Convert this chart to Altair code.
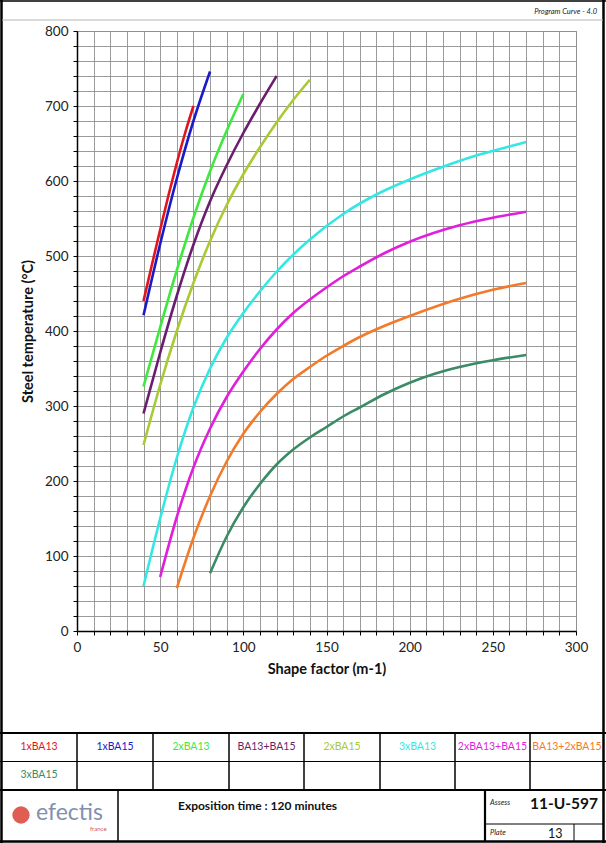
import altair as alt
import pandas as pd

# ---------------- data ----------------
names = ["1xBA13", "1xBA15", "2xBA13", "BA13+BA15", "2xBA15",
         "3xBA13", "2xBA13+BA15", "BA13+2xBA15", "3xBA15"]
colors = ["#E3151C", "#1A1AC8", "#3FE83F", "#6B1E6E", "#A9C935",
          "#33E8E3", "#E01FDC", "#F47A2A", "#3A8B66"]

sf_1xBA13 = [40, 45, 50, 55, 60, 65, 70]
t_1xBA13 = [440, 488, 535, 581, 624, 664, 700]

sf_1xBA15 = [40, 50, 60, 70, 80]
t_1xBA15 = [421, 516, 603, 680, 746]

sf_2xBA13 = [40, 50, 60, 70, 80, 90, 100]
t_2xBA13 = [326, 405, 481, 551, 613, 667, 716]

sf_BA13_BA15 = [40, 50, 60, 70, 80, 90, 100, 110, 120]
t_BA13_BA15 = [290, 371, 447, 515, 573, 621, 664, 703, 740]

sf_2xBA15 = [40, 50, 60, 70, 80, 90, 100, 110, 120, 130, 140]
t_2xBA15 = [248, 328, 400, 464, 520, 568, 609, 645, 678, 708, 735]

sf_3xBA13 = [40, 50, 60, 70, 80, 90, 100, 110, 120, 140, 160, 180, 200, 220, 240, 260, 270]
t_3xBA13 = [60, 150, 231, 298, 350, 391, 424, 453, 479, 522, 556, 582, 602, 619, 634, 646, 652]

sf_2xBA13_BA15 = [50, 60, 70, 80, 90, 100, 110, 120, 130, 140, 150, 160, 170, 185, 200, 230, 250, 270]
t_2xBA13_BA15 = [72, 152, 218, 270, 312, 346, 376, 402, 424, 442, 458, 473, 486, 504, 519, 541, 551, 559]

sf_BA13_2xBA15 = [60, 70, 80, 90, 100, 110, 120, 130, 140, 150, 160, 170, 185, 200, 230, 250, 270]
t_BA13_2xBA15 = [57, 124, 180, 226, 263, 292, 316, 336, 352, 367, 380, 392, 407, 420, 443, 455, 464]

sf_3xBA15 = [80, 90, 100, 110, 120, 130, 140, 150, 160, 170, 185, 200, 215, 230, 250, 270]
t_3xBA15 = [77, 126, 165, 196, 222, 242, 258, 272, 286, 298, 316, 331, 343, 352, 361, 368]

x_ticks = list(range(0, 301, 10))
y_ticks = list(range(0, 801, 20))

header_text = "Program Curve  - 4.0"
footer_title = "Exposition time : 120 minutes"
assess_label = "Assess"
assess_value = "11-U-597"
plate_label = "Plate"
plate_value = "13"

# ---------------- build table ----------------
sf_list = [sf_1xBA13, sf_1xBA15, sf_2xBA13, sf_BA13_BA15, sf_2xBA15,
           sf_3xBA13, sf_2xBA13_BA15, sf_BA13_2xBA15, sf_3xBA15]
t_list = [t_1xBA13, t_1xBA15, t_2xBA13, t_BA13_BA15, t_2xBA15,
          t_3xBA13, t_2xBA13_BA15, t_BA13_2xBA15, t_3xBA15]
rows = []
for n, xs, ts in zip(names, sf_list, t_list):
    for a, b in zip(xs, ts):
        rows.append({"series": n, "sf": a, "temp": b})
df = pd.DataFrame(rows)

FONT = "Lato"
OX, OY = 77, 31          # page position of the plot origin
W, H = 499, 600

lines = alt.Chart(df).mark_line(interpolate="monotone", strokeWidth=2.6).encode(
    x=alt.X("sf:Q",
            scale=alt.Scale(domain=[0, 300], nice=False, zero=False),
            axis=alt.Axis(values=x_ticks, labelFlush=False,
                          labelExpr="datum.value % 50 === 0 ? datum.label : ''",
                          title="Shape factor  (m-1)")),
    y=alt.Y("temp:Q",
            scale=alt.Scale(domain=[0, 800], nice=False),
            axis=alt.Axis(values=y_ticks, labelFlush=False,
                          labelExpr="datum.value % 100 === 0 ? datum.label : ''",
                          title="Steel temperature (°C)")),
    color=alt.Color("series:N", scale=alt.Scale(domain=names, range=colors), legend=None),
    order=alt.Order("sf:Q"),
)

# ---------------- page decoration (page pixel coords -> plot coords) ----------------
col_bounds = [1, 77, 153, 229, 304, 380, 455, 530, 604]
segs = []
def seg(x1, y1, x2, y2, w, c="#000000"):
    segs.append({"x1": x1 - OX, "y1": y1 - OY, "x2": x2 - OX, "y2": y2 - OY, "w": w, "c": c})

seg(1.5, 0, 1.5, 843, 2.5)
seg(603.5, 0, 603.5, 843, 2.5)
seg(0, 1, 606, 1, 1.5)
seg(2, 20, 603, 20, 1, "#b5b5b5")
seg(0, 733, 606, 733, 2.2)
seg(0, 761.5, 606, 761.5, 1)
seg(0, 790, 606, 790, 2.2)
seg(0, 841.5, 606, 841.5, 2.5)
for cx in col_bounds[1:-1]:
    seg(cx, 733, cx, 790, 1.5)
seg(118, 790, 118, 842, 1.5)
seg(485, 790, 485, 842, 2.2)
seg(485, 824, 604, 824, 1)
seg(574, 824, 574, 842, 1)
segs_df = pd.DataFrame(segs)

rules = alt.Chart(segs_df).mark_rule().encode(
    x=alt.X("x1:Q", scale=None, axis=None), x2="x2:Q",
    y=alt.Y("y1:Q", scale=None, axis=None), y2="y2:Q",
    strokeWidth=alt.StrokeWidth("w:Q", scale=None),
    color=alt.Color("c:N", scale=None),
)

# table labels (legend)
lab = []
for i, n in enumerate(names):
    r = 0 if i < 8 else 1
    c = i if i < 8 else 0
    lab.append({"t": n, "x": (col_bounds[c] + col_bounds[c + 1]) / 2 - OX,
                "y": (747 if r == 0 else 775) - OY, "c": colors[i]})
lab_df = pd.DataFrame(lab)
table_text = alt.Chart(lab_df).mark_text(font=FONT, fontSize=10.5, align="center",
                                         baseline="middle").encode(
    x=alt.X("x:Q", scale=None, axis=None), y=alt.Y("y:Q", scale=None, axis=None),
    text="t:N", color=alt.Color("c:N", scale=None))

def txt(items, **kw):
    d = pd.DataFrame([{"t": t, "x": x - OX, "y": y - OY} for t, x, y in items])
    return alt.Chart(d).mark_text(font=FONT, baseline="middle", **kw).encode(
        x=alt.X("x:Q", scale=None, axis=None), y=alt.Y("y:Q", scale=None, axis=None),
        text="t:N")

header = txt([(header_text, 597, 12)], fontSize=7.5, fontStyle="italic", align="right", color="#222")
foot1 = txt([(footer_title, 178, 806)], fontSize=12, fontWeight="bold", align="left", color="#111")
foot2 = txt([(assess_label, 490, 803), (plate_label, 490, 833)], fontSize=7.5,
            fontStyle="italic", align="left", color="#222")
foot3 = txt([(assess_value, 530, 804)], fontSize=15.5, fontWeight="bold", align="left", color="#111")
foot4 = txt([(plate_value, 548, 834)], fontSize=12.5, align="left", color="#111")
logo_t = txt([("efectis", 36, 813)], fontSize=23, align="left", color="#8190ad")
logo_f = txt([("france", 90, 829)], fontSize=6, align="left", color="#d9534f")
logo_df = pd.DataFrame([{"x": 21 - OX, "y": 815 - OY}])
logo_c = alt.Chart(logo_df).mark_point(filled=True, shape="circle", size=300,
                                       color="#dc4b3f", opacity=0.9).encode(
    x=alt.X("x:Q", scale=None, axis=None), y=alt.Y("y:Q", scale=None, axis=None))

chart = alt.layer(
    lines, rules, table_text, header, foot1, foot2, foot3, foot4, logo_c, logo_t, logo_f
).properties(
    width=W, height=H,
    autosize=alt.AutoSizeParams(type="none"),
    padding={"left": OX, "top": OY, "right": 606 - OX - W, "bottom": 843 - OY - H},
    background="white",
).configure_view(
    stroke="#909090", strokeWidth=1
).configure_axis(
    labelFont=FONT, labelFontSize=13.5, labelColor="#222",
    titleFont=FONT, titleFontSize=14.5, titleFontWeight="bold", titleColor="#111",
    domainColor="#000", domainWidth=1.5, tickColor="#000", tickSize=4, tickWidth=1,
    gridColor="#909090", gridWidth=0.9, grid=True, labelOverlap=False, labelPadding=5,
).configure_axisX(
    titlePadding=9
).configure_axisY(
    titlePadding=9
)

chart.save("out.html", embed_options={"renderer": "svg", "actions": False})
